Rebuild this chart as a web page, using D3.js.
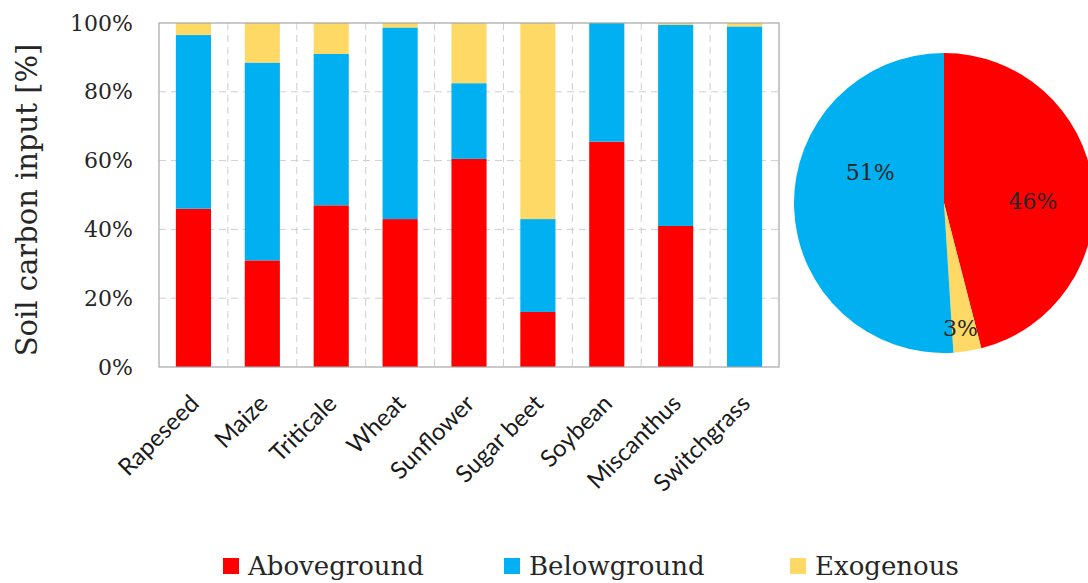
<!DOCTYPE html>
<html>
<head>
<meta charset="utf-8">
<script src="https://cdn.jsdelivr.net/npm/d3@7"></script>
<style>
  html, body { margin: 0; padding: 0; background: #fff; }
  svg { display: block; }
</style>
</head>
<body>
<svg id="chart" width="1088" height="583"></svg>
<script>
// ---- data ----
const categories = ["Rapeseed", "Maize", "Triticale", "Wheat", "Sunflower", "Sugar beet", "Soybean", "Miscanthus", "Switchgrass"];
const aboveground = [46, 31, 47, 43, 60.5, 16, 65.5, 41, 0];
const belowground = [50.5, 57.5, 44, 55.7, 22, 27, 34.5, 58.5, 99];
const exogenous   = [3.5, 11.5, 9, 1.3, 17.5, 57, 0, 0.5, 1];
const seriesNames = ["Aboveground", "Belowground", "Exogenous"];
const yTicks = [0, 20, 40, 60, 80, 100];
const pieNames = ["Aboveground", "Exogenous", "Belowground"];
const pieValues = [46, 3, 51];

// ---- styles ----
const colors = { Aboveground: "#FF0000", Belowground: "#00B0F0", Exogenous: "#FFD966" };
const serif = "'DejaVu Serif', serif";
const sans = "Lato, 'Open Sans', sans-serif";

const svg = d3.select("#chart");
const pLeft = 159, pRight = 779, pTop = 23, pBottom = 367;

const x = d3.scaleBand().domain(categories).range([pLeft, pRight]).paddingInner(0.49).paddingOuter(0.245);
const y = d3.scaleLinear().domain([0, 100]).range([pBottom, pTop]);

// gridlines
const grid = svg.append("g");
grid.selectAll("line.h").data(yTicks.filter(t => t > 0 && t < 100)).enter().append("line")
  .attr("x1", pLeft).attr("x2", pRight)
  .attr("y1", d => y(d)).attr("y2", d => y(d))
  .attr("stroke", "#cfcfcf").attr("stroke-width", 1).attr("stroke-dasharray", "7,5");
const step = x.step();
grid.selectAll("line.v").data(categories.slice(1)).enter().append("line")
  .attr("x1", d => x(d) - x.paddingInner() * step / 2)
  .attr("x2", d => x(d) - x.paddingInner() * step / 2)
  .attr("y1", pTop).attr("y2", pBottom)
  .attr("stroke", "#cfcfcf").attr("stroke-width", 1).attr("stroke-dasharray", "7,5");

// stacked bars
const table = categories.map((c, i) => ({
  cat: c, Aboveground: aboveground[i], Belowground: belowground[i], Exogenous: exogenous[i]
}));
const stacked = d3.stack().keys(seriesNames)(table);
svg.append("g").selectAll("g").data(stacked).enter().append("g")
  .attr("fill", d => colors[d.key])
  .selectAll("rect").data(d => d).enter().append("rect")
  .attr("x", d => x(d.data.cat))
  .attr("width", x.bandwidth())
  .attr("y", d => y(Math.min(100, d[1])))
  .attr("height", d => Math.max(0, y(d[0]) - y(Math.min(100, d[1]))));

// plot frame
svg.append("rect").attr("x", pLeft).attr("y", pTop).attr("width", pRight - pLeft).attr("height", pBottom - pTop)
  .attr("fill", "none").attr("stroke", "#a6a6a6").attr("stroke-width", 1.2);

// y axis
const yAxis = d3.axisLeft(y).tickValues(yTicks).tickFormat(d => d + "%").tickSize(0).tickPadding(26);
const yg = svg.append("g").attr("transform", `translate(${pLeft},0)`).call(yAxis);
yg.select(".domain").remove();
yg.selectAll("text").attr("font-family", serif).attr("font-size", 22).attr("fill", "#262626");

// y title
svg.append("text").attr("transform", "translate(37,200) rotate(-90)")
  .attr("text-anchor", "middle").attr("font-family", serif).attr("font-size", 29).attr("fill", "#262626")
  .text("Soil carbon input [%]");

// x axis labels
const xAxis = d3.axisBottom(x).tickSize(0).tickPadding(0);
const xg = svg.append("g").attr("transform", `translate(0,${pBottom})`).call(xAxis);
xg.select(".domain").remove();
xg.selectAll("text")
  .attr("font-family", sans).attr("font-size", 24).attr("fill", "#1a1a1a")
  .attr("text-anchor", "end").attr("dy", null).attr("y", null)
  .attr("transform", "translate(7,38) rotate(-45)");

// legend
const legendItems = [
  { name: "Aboveground", x: 223 },
  { name: "Belowground", x: 504 },
  { name: "Exogenous", x: 790 }
];
const lg = svg.append("g");
const li = lg.selectAll("g").data(legendItems).enter().append("g")
  .attr("transform", d => `translate(${d.x},566)`);
li.append("rect").attr("x", 0).attr("y", -8).attr("width", 16).attr("height", 16).attr("fill", d => colors[d.name]);
li.append("text").attr("x", 25).attr("y", 0).attr("dy", "0.35em")
  .attr("font-family", serif).attr("font-size", 26).attr("fill", "#262626").text(d => d.name);

// pie
const cx = 944, cy = 203, R = 150;
const pieData = d3.pie().sort(null).value(d => d.value)(pieNames.map((n, i) => ({ name: n, value: pieValues[i] })));
const arc = d3.arc().innerRadius(0).outerRadius(R);
const pg = svg.append("g").attr("transform", `translate(${cx},${cy})`);
pg.selectAll("path").data(pieData).enter().append("path")
  .attr("d", arc).attr("fill", d => colors[d.data.name]);
// label placement (Excel "best fit"-like): radius and angle offset from mid-angle
const labelLayout = { Aboveground: { r: 89, da: 6 }, Exogenous: { r: 126, da: 1.5 }, Belowground: { r: 80, da: 24.7 } };
pg.selectAll("text").data(pieData).enter().append("text")
  .attr("transform", d => {
    const L = labelLayout[d.data.name];
    const a = (d.startAngle + d.endAngle) / 2 + L.da * Math.PI / 180;
    return `translate(${L.r * Math.sin(a)},${-L.r * Math.cos(a)})`;
  })
  .attr("text-anchor", "middle").attr("dy", "0.35em")
  .attr("font-family", serif).attr("font-size", 22).attr("fill", "#262626")
  .text(d => d.data.value + "%");
</script>
</body>
</html>
